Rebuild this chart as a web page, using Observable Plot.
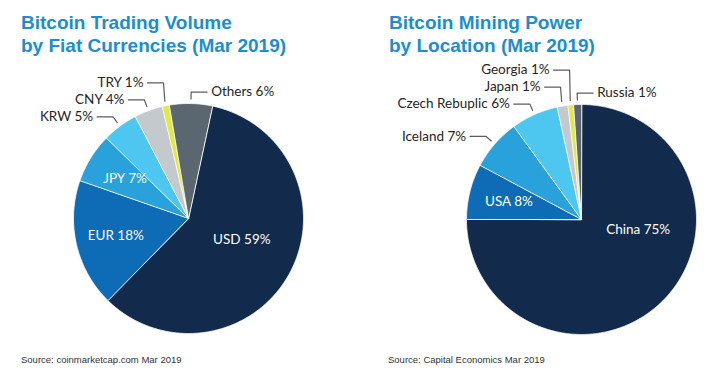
<!DOCTYPE html>
<html>
<head>
<meta charset="utf-8">
<script src="https://cdn.jsdelivr.net/npm/d3@7"></script>
<script src="https://cdn.jsdelivr.net/npm/@observablehq/plot@0.6"></script>
<style>
  body { margin: 0; background: #fff; width: 720px; height: 389px; overflow: hidden; }
  #wrap { display: flex; }
  .panel { width: 360px; }
  .title { margin: 11px 0 3px 0; height: 46px; font: bold 19px/23px "Liberation Sans", Arial, sans-serif; color: #1b8ed0; white-space: nowrap; }
  .src { margin: 14px 0 0 0; font: 9.5px/12px "Liberation Sans", Arial, sans-serif; color: #333; white-space: nowrap; }
  svg { display: block; }
</style>
</head>
<body>
<div id="wrap">
  <div class="panel" id="p1">
    <div class="title" style="padding-left:21px">Bitcoin Trading Volume<br>by Fiat Currencies (Mar 2019)</div>
    <div id="c1"></div>
    <div class="src" style="padding-left:21px">Source: coinmarketcap.com Mar 2019</div>
  </div>
  <div class="panel" id="p2">
    <div class="title" style="padding-left:29px">Bitcoin Mining Power<br>by Location (Mar 2019)</div>
    <div id="c2"></div>
    <div class="src" style="padding-left:28px">Source: Capital Economics Mar 2019</div>
  </div>
</div>
<script>
// ---- data ----
const tradeNames = ["USD", "EUR", "JPY", "KRW", "CNY", "TRY", "Others"];
const tradeValues = [59, 18, 7, 5, 4, 1, 6];
const tradePct = [59, 18, 7, 5, 4, 1, 6];

const mineNames = ["China", "USA", "Iceland", "Czech Rebuplic", "Japan", "Georgia", "Russia"];
const mineValues = [75, 7.8, 7.2, 6.6, 1.5, 0.8, 1.1];
const minePct = [75, 8, 7, 6, 1, 1, 1];

const sliceColors = ["#122a4b", "#0e6bb6", "#29a2dc", "#4dc6f0", "#c4c9cd", "#e2e84a", "#5a6670"];

// ---- layout ----
const W = 360, H = 280;

function pieChart({names, values, pct, startDeg, inside, cx, cy, r}) {
  const rows = names.map((n, i) => ({name: n, value: values[i], label: `${n} ${pct[i]}%`}));
  const a0 = startDeg * Math.PI / 180;
  const arcs = d3.pie().value(d => d.value).sort(null).startAngle(a0).endAngle(a0 + 2 * Math.PI)(rows);

  // slice polygons in unit-circle coordinates
  const poly = [];
  for (const a of arcs) {
    poly.push({name: a.data.name, x: 0, y: 0});
    const n = Math.max(2, Math.ceil((a.endAngle - a.startAngle) / (Math.PI / 360)));
    for (let i = 0; i <= n; i++) {
      const t = a.startAngle + (a.endAngle - a.startAngle) * i / n;
      poly.push({name: a.data.name, x: Math.sin(t), y: Math.cos(t)});
    }
  }

  // inside labels
  const inLabels = arcs.filter(a => inside.includes(a.data.name)).map(a => {
    const mid = (a.startAngle + a.endAngle) / 2;
    const big = a.data.value > 30;
    const ang = big ? Math.min(mid, a.startAngle + 100 * Math.PI / 180) : mid;
    const rr = big ? 0.5 : 0.65;
    return {label: a.data.label, x: rr * Math.sin(ang), y: rr * Math.cos(ang)};
  });

  // outside labels with leader lines
  const px = 1 / r;
  const gap = 17 * px, hLen = 16 * px, tGap = 4 * px;
  const out = arcs.filter(a => !inside.includes(a.data.name)).map(a => {
    const mid = (a.startAngle + a.endAngle) / 2;
    return {
      name: a.data.name, label: a.data.label,
      side: Math.sin(mid) > -0.08 ? "right" : "left",
      sx: 1.04 * Math.sin(mid), sy: 1.04 * Math.cos(mid),
      ex: 1.1 * Math.sin(mid), ey: 1.1 * Math.cos(mid)
    };
  });
  for (const side of ["left", "right"]) {
    const group = out.filter(d => d.side === side).sort((p, q) => p.ey - q.ey);
    let prev = -Infinity;
    for (const d of group) {
      d.ey = Math.max(d.ey, prev + gap);
      prev = d.ey;
    }
  }
  const leaders = [];
  for (const d of out) {
    const dir = d.side === "left" ? -1 : 1;
    d.hx = d.ex + dir * hLen;
    d.tx = d.hx + dir * tGap;
    leaders.push({name: d.name, x: d.sx, y: d.sy}, {name: d.name, x: d.ex, y: d.ey}, {name: d.name, x: d.hx, y: d.ey});
  }

  return Plot.plot({
    width: W, height: H, margin: 0,
    x: {domain: [-cx / r, (W - cx) / r], range: [0, W], axis: null},
    y: {domain: [cy / r, (cy - H) / r], range: [0, H], axis: null},
    color: {domain: names, range: sliceColors},
    style: {background: "transparent", overflow: "visible"},
    marks: [
      Plot.line(poly, {x: "x", y: "y", z: "name", fill: "name", stroke: "#ffffff", strokeWidth: 0.8, curve: "linear-closed"}),
      Plot.line(leaders, {x: "x", y: "y", z: "name", stroke: "#5c5c5c", strokeWidth: 1.2}),
      Plot.text(out.filter(d => d.side === "left"), {x: "tx", y: "ey", text: "label", textAnchor: "end", fill: "#262626", fontSize: 13.5, fontFamily: "Lato"}),
      Plot.text(out.filter(d => d.side === "right"), {x: "tx", y: "ey", text: "label", textAnchor: "start", fill: "#262626", fontSize: 13.5, fontFamily: "Lato"}),
      Plot.text(inLabels, {x: "x", y: "y", text: "label", fill: "#ffffff", fontSize: 13.5, fontFamily: "Lato"})
    ]
  });
}

document.getElementById("c1").append(pieChart({
  names: tradeNames, values: tradeValues, pct: tradePct, startDeg: 12,
  inside: ["USD", "EUR", "JPY"], cx: 188, cy: 158, r: 115
}));
document.getElementById("c2").append(pieChart({
  names: mineNames, values: mineValues, pct: minePct, startDeg: 0,
  inside: ["China", "USA"], cx: 221, cy: 159, r: 115
}));
</script>
</body>
</html>
